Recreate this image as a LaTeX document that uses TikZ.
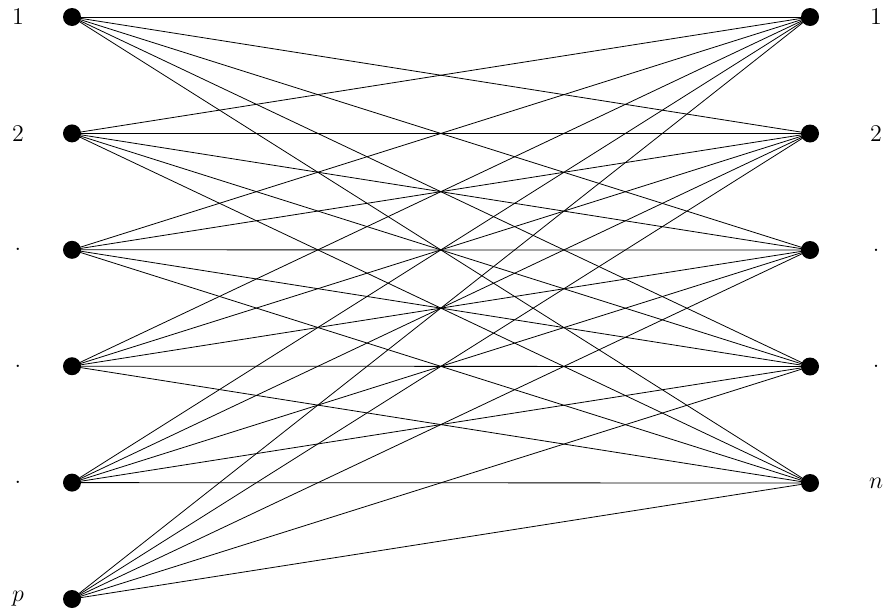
\documentclass[tikz,border=0pt]{standalone}
\begin{document}
\begin{tikzpicture}[x=0.5pt,y=-0.5pt,
  dot/.style={circle,fill=black,inner sep=0pt,minimum size=9pt},
  lbl/.style={inner sep=0pt,font=\large},
  edge/.style={line width=0.4pt}]
\useasboundingbox (0,0) rectangle (886,611);
\foreach \i/\t in {1/1,2/2,3/.,4/.,5/.,6/p}{
  \node[dot] (L\i) at (72,{17+(\i-1)*116.4}) {};
  \node[lbl] (LL\i) at (18,{17+(\i-1)*116.4}) {$\t$};
}
\foreach \j/\t in {1/1,2/2,3/.,4/.,5/n}{
  \node[dot] (R\j) at (810,{17+(\j-1)*116.5}) {};
  \node[lbl] (RL\j) at (876,{17+(\j-1)*116.5}) {$\t$};
}
\foreach \i in {1,...,6}{
  \foreach \j in {1,...,5}{
    \draw[edge] (L\i.center) -- (R\j.center);
  }
}
\end{tikzpicture}
\end{document}
